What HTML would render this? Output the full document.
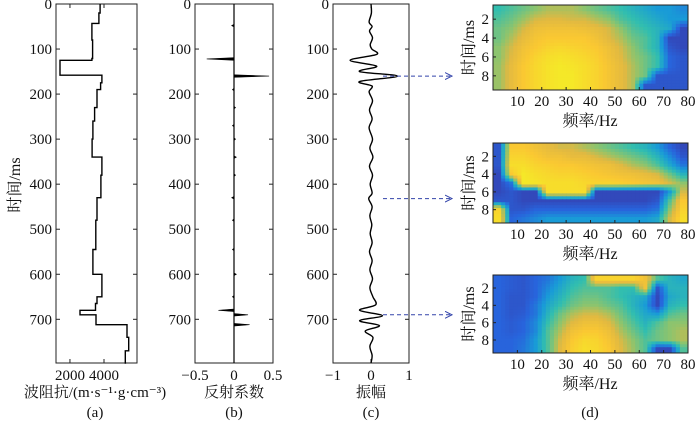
<!DOCTYPE html>
<html><head><meta charset="utf-8"><style>
body{margin:0;background:#fff;}
svg{display:block;font-family:"Liberation Serif","Noto Serif CJK SC",serif;}
</style></head><body>
<svg id="fig" width="700" height="421" viewBox="0 0 700 421" xmlns="http://www.w3.org/2000/svg"></svg>
<script>
// ---- data ----
const impTime=[0,20,43,80,121,125,158,175,190,230,260,300,340,380,430,480,545,600,650,665,680,690,712,740,770,797];
const impVal=[3770,3700,3290,3330,3290,1415,3880,3800,3590,3450,3350,3300,3880,3820,3590,3520,3350,3880,3590,3500,2590,3530,5350,5450,5250,5300];
const refTime=[48,122,160,190,230,270,300,340,380,430,480,545,600,650,680,690,712];
const refVal=[-0.03,-0.35,0.45,-0.02,0.02,-0.02,0.02,0.03,0.02,-0.03,-0.02,-0.02,0.03,-0.02,-0.2,0.18,0.2];
const trcTime=[0,20,40,50,60,75,90,100,112,125,138,150,160,172,182,195,215,235,255,275,300,320,340,360,380,400,420,432,450,470,490,510,530,550,570,590,610,630,650,668,680,692,703,714,726,740,760,780,797];
const trcVal=[0,0.01,-0.05,0.03,-0.04,0.04,-0.02,0.02,0.15,-0.55,0.15,-0.3,0.7,-0.3,0.03,-0.05,0.04,-0.04,0.03,-0.05,0.04,-0.03,0.05,-0.04,0.04,-0.02,0.03,-0.06,0.03,-0.03,0.02,-0.02,0.03,-0.04,0.03,-0.03,0.04,-0.03,0.05,0.12,-0.3,0.3,-0.3,0.22,-0.15,0.05,-0.03,0.03,0];
const yTicks=[0,100,200,300,400,500,600,700];
const hmTicksX=[10,20,30,40,50,60,70,80];
const hmTicksY=[2,4,6,8];
const hmA=[
[0.45,0.5,0.55,0.6,0.65,0.65,0.65,0.6,0.55,0.5,0.45,0.4,0.35,0.3,0.3,0.25],
[0.5,0.55,0.62,0.7,0.72,0.72,0.7,0.7,0.65,0.6,0.5,0.45,0.4,0.35,0.3,0.3],
[0.55,0.6,0.7,0.78,0.8,0.8,0.8,0.78,0.75,0.7,0.6,0.5,0.45,0.4,0.35,0.05],
[0.55,0.65,0.75,0.82,0.85,0.85,0.85,0.85,0.8,0.72,0.65,0.55,0.5,0.4,0.05,0.05],
[0.6,0.7,0.8,0.85,0.9,0.92,0.9,0.88,0.85,0.78,0.7,0.6,0.5,0.4,0.1,0.05],
[0.6,0.72,0.82,0.9,0.95,0.97,0.95,0.92,0.88,0.8,0.72,0.62,0.55,0.45,0.15,0.1],
[0.62,0.75,0.85,0.92,0.97,1,0.98,0.95,0.9,0.82,0.75,0.65,0.55,0.45,0.15,0.1],
[0.62,0.75,0.85,0.92,0.97,1,1,0.95,0.9,0.82,0.75,0.65,0.55,0.1,0.1,0.1],
[0.62,0.75,0.85,0.92,0.97,1,1,0.95,0.9,0.82,0.75,0.65,0.1,0.1,0.1,0.1]];
const hmB=[
[0.1,0.85,0.85,0.8,0.75,0.7,0.7,0.65,0.6,0.55,0.5,0.45,0.4,0.3,0.15,0.05],
[0.1,0.9,0.9,0.85,0.8,0.8,0.75,0.75,0.7,0.65,0.6,0.55,0.5,0.4,0.25,0.1],
[0.1,0.95,0.95,0.9,0.88,0.85,0.85,0.82,0.8,0.78,0.72,0.65,0.6,0.5,0.35,0.2],
[0.05,0.85,1,0.95,0.92,0.9,0.9,0.88,0.85,0.82,0.8,0.78,0.75,0.7,0.55,0.4],
[0.05,0.2,1,0.98,0.95,0.95,0.95,0.92,0.9,0.9,0.88,0.85,0.82,0.8,0.7,0.6],
[0.05,0.1,0.05,0.05,0.95,0.95,0.95,0.95,0.05,0.05,0.05,0.05,0.05,0.05,0.3,0.7],
[0.1,0.1,0.05,0.05,0.05,0.05,0.05,0.05,0.05,0.05,0.05,0.05,0.05,0.1,0.5,0.85],
[0.9,0.1,0.1,0.15,0.15,0.15,0.15,0.15,0.15,0.15,0.15,0.15,0.15,0.2,0.6,0.9],
[0.95,0.15,0.2,0.25,0.3,0.3,0.3,0.3,0.3,0.3,0.3,0.3,0.3,0.35,0.7,0.95]];
const hmC=[
[0.15,0.12,0.1,0.15,0.2,0.3,0.4,0.45,0.9,0.9,0.9,0.9,0.8,0.5,0.4,0.35],
[0.15,0.12,0.1,0.15,0.25,0.35,0.45,0.5,0.5,0.5,0.45,0.45,0.8,0.1,0.4,0.4],
[0.15,0.1,0.1,0.15,0.3,0.4,0.5,0.55,0.55,0.5,0.45,0.4,0.35,0.05,0.35,0.4],
[0.15,0.1,0.1,0.2,0.35,0.45,0.55,0.6,0.6,0.55,0.5,0.4,0.3,0.05,0.4,0.45],
[0.15,0.1,0.12,0.2,0.4,0.55,0.65,0.7,0.7,0.65,0.55,0.45,0.35,0.3,0.5,0.55],
[0.15,0.12,0.15,0.25,0.45,0.6,0.72,0.78,0.78,0.72,0.6,0.5,0.4,0.5,0.6,0.6],
[0.15,0.12,0.15,0.25,0.5,0.65,0.8,0.85,0.85,0.78,0.65,0.55,0.45,0.55,0.6,0.65],
[0.15,0.15,0.18,0.3,0.5,0.7,0.85,0.92,0.9,0.82,0.7,0.6,0.5,0.55,0.6,0.65],
[0.15,0.15,0.2,0.3,0.5,0.72,0.88,0.95,0.92,0.85,0.72,0.62,0.5,0.05,0.05,0.5]];
const arrowTimes=[160,432,690];

// ---- helpers ----
const NS="http://www.w3.org/2000/svg";
const svg=document.getElementById('fig');
function mk(tag,attrs,parent){const e=document.createElementNS(NS,tag);for(const k in attrs)e.setAttribute(k,attrs[k]);(parent||svg).appendChild(e);return e;}
function txt(s,x,y,size,anchor,parent){const t=mk('text',{x:x,y:y,'font-size':size,'text-anchor':anchor||'middle',fill:'#111'},parent);t.textContent=s;return t;}
const Y0=4,Y1=363,TMAX=797;
const yT=ms=>Y0+ms/TMAX*(Y1-Y0);

function frame(x0,x1,name,xticks,xs,xlabels){
  const g=mk('g',{});
  
  
  mk('rect',{x:x0,y:Y0,width:x1-x0,height:Y1-Y0,fill:'none',stroke:'#222','stroke-width':1},g);
  yTicks.forEach(v=>{const y=yT(v);
    mk('line',{x1:x0,x2:x0+4,y1:y,y2:y,stroke:'#222'},g);
    mk('line',{x1:x1,x2:x1-4,y1:y,y2:y,stroke:'#222'},g);
    const t=txt(String(v),x0-4,y+5,15,'end',g);
    });
  xticks.forEach((v,i)=>{const x=xs(v);
    mk('line',{x1:x,x2:x,y1:Y1,y2:Y1-4,stroke:'#222'},g);
    mk('line',{x1:x,x2:x,y1:Y0,y2:Y0+4,stroke:'#222'},g);
    const t=txt(xlabels[i],x,Y1+17,15,'middle',g);
    });
  return g;
}

// ---- panel a ----
const xA=v=>56+(v-1180)/4760*81;
const gA=frame(56,137,'panel-a-impedance',[2000,4000],xA,['2000','4000']);
let d='';
impTime.forEach((t,i)=>{const x=xA(impVal[i]);const tn=i<impTime.length-1?impTime[i+1]:TMAX;
  d+=(i==0?'M':'L')+x.toFixed(1)+','+yT(t).toFixed(1)+'L'+x.toFixed(1)+','+yT(tn).toFixed(1);});
const pa=mk('path',{d:d,fill:'none',stroke:'#000','stroke-width':1.4},gA);

let t=txt('时间/ms',0,0,16,'middle');t.setAttribute('transform','translate(20,185) rotate(-90)');

t=txt('波阻抗/(m·s⁻¹·g·cm⁻³)',95,397,15);
t=txt('(a)',95,417,15);

// ---- panel b ----
const xB=v=>234+v*78;
const gB=frame(195,273,'panel-b-reflectivity',[-0.5,0,0.5],xB,['−0.5','0','0.5']);
mk('line',{x1:xB(0),x2:xB(0),y1:Y0,y2:Y1,stroke:'#000','stroke-width':1.2},gB);
refTime.forEach((tm,i)=>{const y=yT(tm);const p=mk('path',{d:`M${xB(0)},${y-1.3}L${xB(refVal[i])},${y}L${xB(0)},${y+1.3}Z`,fill:'#000',stroke:'#000','stroke-width':0.6},gB);
  });
t=txt('反射系数',234,397,15);
t=txt('(b)',234,417,15);

// ---- panel c ----
const xC=v=>371+v*38;
const gC=frame(333,409,'panel-c-seismic-trace',[-1,0,1],xC,['−1','0','1']);
let pts=trcTime.map((tm,i)=>[xC(trcVal[i]),yT(tm)]);
d='M'+pts[0][0]+','+pts[0][1];
for(let i=0;i<pts.length-1;i++){const p0=pts[Math.max(0,i-1)],p1=pts[i],p2=pts[i+1],p3=pts[Math.min(pts.length-1,i+2)];
  const c1=[p1[0]+(p2[0]-p0[0])/6,p1[1]+(p2[1]-p0[1])/6],c2=[p2[0]-(p3[0]-p1[0])/6,p2[1]-(p3[1]-p1[1])/6];
  d+=`C${c1[0].toFixed(1)},${c1[1].toFixed(1)} ${c2[0].toFixed(1)},${c2[1].toFixed(1)} ${p2[0].toFixed(1)},${p2[1].toFixed(1)}`;}
const pc=mk('path',{d:d,fill:'none',stroke:'#000','stroke-width':1.4},gC);

t=txt('振幅',371,397,15);
t=txt('(c)',371,417,15);

// arrows
mk('defs',{}).innerHTML='<marker id="ah" markerWidth="8" markerHeight="8" refX="7" refY="4" orient="auto"><path d="M0,0.5L7,4L0,7.5" fill="none" stroke="#3344aa" stroke-width="1"/></marker>';
arrowTimes.forEach(tm=>{const y=yT(tm);
  const a=mk('line',{x1:xC(0)+12,x2:452,y1:y,y2:y,stroke:'#3344aa','stroke-width':1,'stroke-dasharray':'4,3','marker-end':'url(#ah)'});
  });

// ---- panel d heatmaps ----
const stops=[[0,[55,60,170]],[0.15,[40,100,220]],[0.3,[25,155,215]],[0.45,[50,190,175]],[0.6,[140,196,110]],[0.72,[225,185,65]],[0.85,[250,200,50]],[1,[245,232,40]]];
function cmap(v){v=Math.max(0,Math.min(1,v));for(let i=1;i<stops.length;i++){if(v<=stops[i][0]){const a=stops[i-1],b=stops[i];const f=(v-a[0])/(b[0]-a[0]);
  const c=a[1].map((x,k)=>Math.round(x+(b[1][k]-x)*f));return `rgb(${c[0]},${c[1]},${c[2]})`;}}return 'rgb(245,232,40)';}
function sample(data,r,c){ // bilinear in cell-centre coordinates
  const R=data.length,C=data[0].length;
  r=Math.max(0,Math.min(R-1,r));c=Math.max(0,Math.min(C-1,c));
  const r0=Math.floor(r),c0=Math.floor(c),r1=Math.min(R-1,r0+1),c1=Math.min(C-1,c0+1),fr=r-r0,fc=c-c0;
  return data[r0][c0]*(1-fr)*(1-fc)+data[r0][c1]*(1-fr)*fc+data[r1][c0]*fr*(1-fc)+data[r1][c1]*fr*fc;}
function heat(data,top,bot,name){
  const X0=493,X1=688;const xF=f=>X0+f/80*(X1-X0);const yR=r=>top+(r-0.5)/9*(bot-top);
  const g=mk('g',{});
  const R=data.length,C=data[0].length,SR=3,SC=3;
  const cw=(X1-X0)/(C*SC),ch=(bot-top)/(R*SR);
  for(let i=0;i<R*SR;i++)for(let j=0;j<C*SC;j++){
    const v=sample(data,(i+0.5)/SR-0.5,(j+0.5)/SC-0.5);
    const r=mk('rect',{x:(X0+j*cw).toFixed(2),y:(top+i*ch).toFixed(2),width:(cw+0.5).toFixed(2),height:(ch+0.5).toFixed(2),fill:cmap(v)},g);
    }
  mk('rect',{x:X0,y:top,width:X1-X0,height:bot-top,fill:'none',stroke:'#222'},g);
  hmTicksX.forEach(f=>{const x=xF(f);mk('line',{x1:x,x2:x,y1:bot,y2:bot-3,stroke:'#222'},g);
    const tt=txt(String(f),x,bot+16,15,'middle',g);});
  hmTicksY.forEach(v=>{const y=yR(v);mk('line',{x1:X0,x2:X0+3,y1:y,y2:y,stroke:'#222'},g);
    const tt=txt(String(v),X0-4,y+5,15,'end',g);});
  let tt=txt('时间/ms',0,0,16,'middle',g);tt.setAttribute('transform',`translate(474,${(top+bot)/2}) rotate(-90)`);
  
  tt=txt('频率/Hz',590,bot+36,16,'middle',g);
}
heat(hmA,5,90,'heatmap-160ms');
heat(hmB,143,223,'heatmap-430ms');
heat(hmC,275,353,'heatmap-690ms');
t=txt('(d)',590,417,15);
</script>
</body></html>
